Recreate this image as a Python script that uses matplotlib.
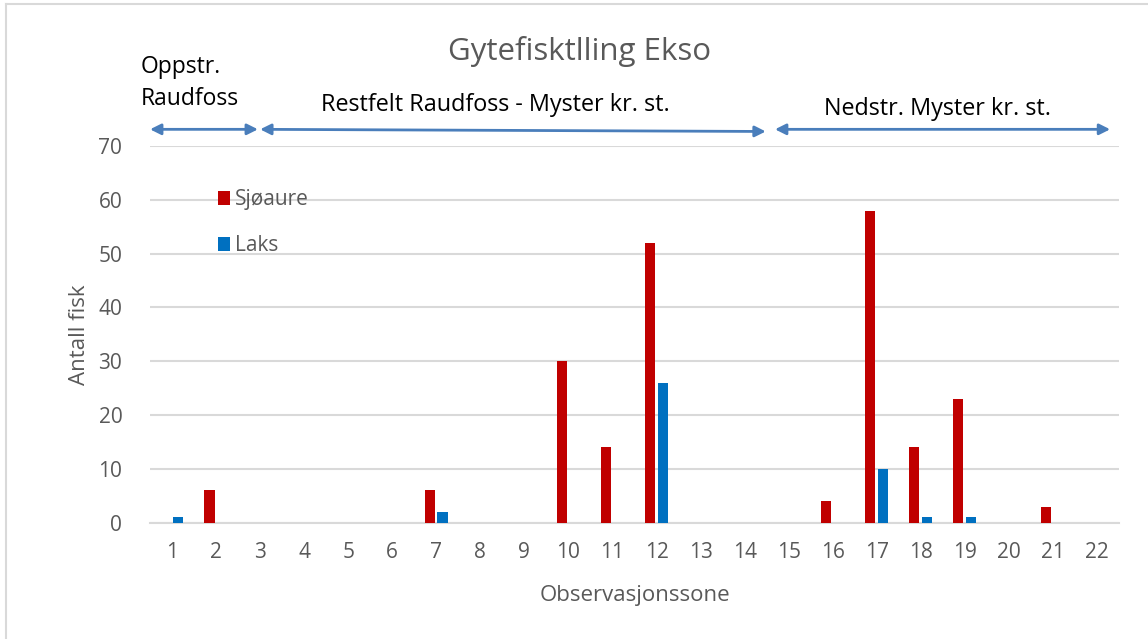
import matplotlib.pyplot as plt
import numpy as np

soner = list(range(1, 23))
sjoaure = [0, 6, 0, 0, 0, 0, 6, 0, 0, 30, 14, 52, 0, 0, 0, 4, 58, 14, 23, 0, 3, 0]
laks = [1, 0, 0, 0, 0, 0, 2, 0, 0, 0, 0, 26, 0, 0, 0, 0, 10, 1, 1, 0, 0, 0]

strekninger = ["Oppstr.\nRaudfoss", "Restfelt Raudfoss - Myster kr. st.", "Nedstr. Myster kr. st."]

plt.rcParams['font.family'] = ['Open Sans', 'DejaVu Sans']
grey = '#595959'
grid = '#d9d9d9'

fig = plt.figure(figsize=(11.48, 6.39), dpi=100)
ax = fig.add_axes([0.1307, 0.182, 0.844, 0.5895])

x = np.array(soner)
w = 0.23
ax.bar(x - 0.15, sjoaure, w, color='#C00000', label='Sjøaure', zorder=3)
ax.bar(x + 0.14, laks, w, color='#0070C0', label='Laks', zorder=3)

ax.set_xlim(0.5, 22.5)
ax.set_ylim(0, 70)
ax.set_xticks(soner)
ax.set_yticks(range(0, 71, 10))
ax.tick_params(length=0, labelsize=15, labelcolor=grey)
ax.tick_params(axis='x', pad=14)
ax.tick_params(axis='y', pad=20)
ax.grid(axis='y', color=grid, lw=1.5, zorder=0)
for s in ['top', 'right', 'left']:
    ax.spines[s].set_visible(False)
ax.spines['bottom'].set_color(grid)
ax.spines['bottom'].set_linewidth(1.5)

ax.set_xlabel('Observasjonssone', fontsize=16, color=grey, labelpad=16)
ax.set_ylabel('Antall fisk', fontsize=16, color=grey, labelpad=6)

ax.legend(loc='upper left', bbox_to_anchor=(0.07, 0.885), frameon=False, fontsize=15,
          labelcolor=grey, handlelength=0.6, handleheight=0.6, handletextpad=0.2,
          labelspacing=1.2, borderpad=0, borderaxespad=0)

fig.text(0.505, 0.92, 'Gytefisktlling Ekso', ha='center', va='center', fontsize=22.5, color=grey)

# strekningspiler
pil = dict(arrowstyle='<|-|>', color='#4a7ebb', lw=2, mutation_scale=16, shrinkA=0, shrinkB=0)
ax.annotate('', xy=(0.5, 73.1), xytext=(2.95, 73.1), arrowprops=pil, annotation_clip=False)
ax.annotate('', xy=(3.0, 73.1), xytext=(14.48, 72.7), arrowprops=pil, annotation_clip=False)
ax.annotate('', xy=(14.69, 73.1), xytext=(22.3, 73.1), arrowprops=pil, annotation_clip=False)

ax.text(0.28, 81.7, strekninger[0], ha='left', va='center', fontsize=16.5, color='black',
        linespacing=1.4)
ax.text(8.33, 77.6, strekninger[1], ha='center', va='center', fontsize=16.8, color='black')
ax.text(18.39, 76.9, strekninger[2], ha='center', va='center', fontsize=16.8, color='black')

# ramme
fig.add_artist(plt.Line2D([0.005, 0.005], [0, 0.993], color=grid, lw=1.5))
fig.add_artist(plt.Line2D([0.005, 1], [0.993, 0.993], color=grid, lw=1.5))

fig.savefig('out.png', dpi=100)
